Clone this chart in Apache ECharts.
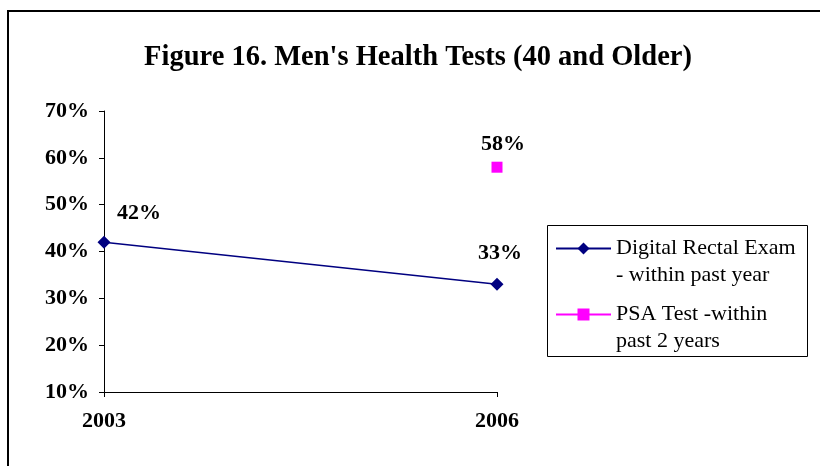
<!DOCTYPE html>
<html>
<head>
<meta charset="utf-8">
<script src="https://cdn.jsdelivr.net/npm/echarts@6/dist/echarts.min.js"></script>
<style>
html, body { margin: 0; padding: 0; background: #fff; }
#main { width: 820px; height: 466px; }
</style>
</head>
<body>
<div id="main"></div>
<script>
// 数据
var years = ['2003', '2006'];
var dreValues = [42, 33];
var psaValues = [null, 58];
var seriesNames = ['Digital Rectal Exam\n- within past year', 'PSA Test -within\npast 2 years'];

var serif = 'Liberation Serif, Times New Roman, serif';

var chart = echarts.init(document.getElementById('main'));

// 每个点的标签偏移
var dreOffsets = [[35, -6], [3, -8]];
var dreData = dreValues.map(function (v, i) {
    return { value: v, label: { offset: dreOffsets[i] } };
});
var psaData = psaValues.map(function (v) {
    return v == null ? null : { value: v, label: { offset: [6, -1] } };
});

chart.setOption({
    animation: false,
    title: {
        text: "Figure 16. Men's Health Tests (40 and Older)",
        left: 413,
        textAlign: 'center',
        top: 38,
        textStyle: { fontFamily: serif, fontSize: 28.5, fontWeight: 'bold', color: '#000' }
    },
    graphic: [
        { type: 'rect', shape: { x: 8, y: 11, width: 830, height: 480 },
          style: { fill: 'none', stroke: '#000', lineWidth: 2 } },
        { type: 'rect', shape: { x: 547.5, y: 225.5, width: 260, height: 131 },
          style: { fill: 'none', stroke: '#000', lineWidth: 1 } }
    ],
    legend: {
        orient: 'vertical',
        left: 555,
        top: 208,
        padding: 0,
        itemWidth: 55,
        itemHeight: 15,
        itemGap: -15,
        // 首行与图标对齐
        formatter: function (name) { return '\n' + name; },
        textStyle: { fontFamily: serif, fontSize: 22, color: '#000', lineHeight: 27 }
    },
    grid: { left: 104, right: 323, top: 111, bottom: 74 },
    xAxis: {
        type: 'category',
        data: years,
        boundaryGap: false,
        axisLine: { lineStyle: { color: '#000', width: 1 } },
        axisTick: { show: true, alignWithLabel: true, length: 5, lineStyle: { color: '#000' } },
        axisLabel: { fontFamily: serif, fontSize: 22, fontWeight: 'bold', color: '#000', margin: 18 }
    },
    yAxis: {
        type: 'value',
        min: 10,
        max: 70,
        interval: 10,
        splitLine: { show: false },
        axisLine: { show: true, lineStyle: { color: '#000', width: 1 } },
        axisTick: { show: true, length: 5, lineStyle: { color: '#000' } },
        axisLabel: { fontFamily: serif, fontSize: 22, fontWeight: 'bold', color: '#000', margin: 15,
                     formatter: '{value}%' }
    },
    series: [
        {
            name: seriesNames[0],
            type: 'line',
            data: dreData,
            symbol: 'diamond',
            symbolSize: 13,
            color: '#000080',
            lineStyle: { color: '#000080', width: 1.5 },
            itemStyle: { color: '#000080' },
            label: { show: true, position: 'top', formatter: '{c}%',
                     fontFamily: serif, fontSize: 22, fontWeight: 'bold', color: '#000' }
        },
        {
            name: seriesNames[1],
            type: 'line',
            data: psaData,
            symbol: 'rect',
            symbolSize: 11,
            color: '#ff00ff',
            lineStyle: { color: '#ff00ff', width: 1.5 },
            itemStyle: { color: '#ff00ff' },
            label: { show: true, position: 'top', formatter: '{c}%',
                     fontFamily: serif, fontSize: 22, fontWeight: 'bold', color: '#000' }
        }
    ]
});
</script>
</body>
</html>
